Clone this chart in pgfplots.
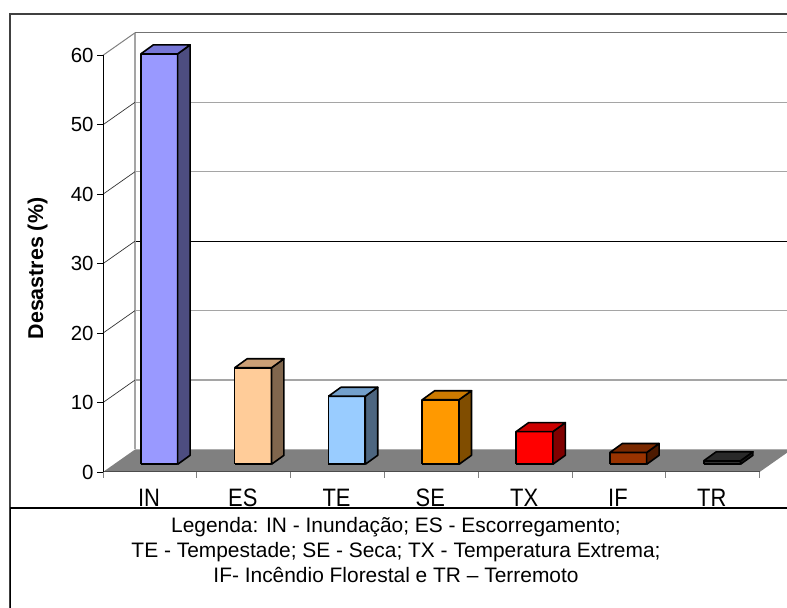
\documentclass[border=0pt]{standalone}
\usepackage{fontspec}
\setmainfont{Liberation Sans}
\usepackage{pgfplots}
\usepackage{pgfplotstable}
\pgfplotsset{compat=1.18}

\pgfplotstableread{
idx cat val
0 IN 59.1
1 ES 13.9
2 TE 9.8
3 SE 9.3
4 TX 4.7
5 IF 1.7
6 TR 0.5
}\datatab

% face templates: x = i + a ; y = value*b + c
\pgfplotstableread{
a b c
-0.196 0 0
0.196 0 0
0.196 1 0
-0.196 1 0
-0.196 0 0
}\frontface
\pgfplotstableread{
a b c
0.196 0 0
0.329 0 1.296
0.329 1 1.296
0.196 1 0
0.196 0 0
}\sideface
\pgfplotstableread{
a b c
-0.196 1 0
0.196 1 0
0.329 1 1.296
-0.063 1 1.296
-0.196 1 0
}\topface

\definecolor{bar0f}{RGB}{153,153,255}\definecolor{bar0t}{RGB}{118,118,214}\definecolor{bar0s}{RGB}{77,77,128}
\definecolor{bar1f}{RGB}{255,204,153}\definecolor{bar1t}{RGB}{204,160,118}\definecolor{bar1s}{RGB}{128,102,77}
\definecolor{bar2f}{RGB}{153,204,255}\definecolor{bar2t}{RGB}{115,160,204}\definecolor{bar2s}{RGB}{77,102,128}
\definecolor{bar3f}{RGB}{255,153,0}\definecolor{bar3t}{RGB}{204,122,0}\definecolor{bar3s}{RGB}{128,77,0}
\definecolor{bar4f}{RGB}{255,0,0}\definecolor{bar4t}{RGB}{204,0,0}\definecolor{bar4s}{RGB}{128,0,0}
\definecolor{bar5f}{RGB}{153,51,0}\definecolor{bar5t}{RGB}{122,41,0}\definecolor{bar5s}{RGB}{77,26,0}
\definecolor{bar6f}{RGB}{51,51,51}\definecolor{bar6t}{RGB}{41,41,41}\definecolor{bar6s}{RGB}{26,26,26}
\definecolor{floorgray}{RGB}{128,128,128}
\definecolor{gridgray}{RGB}{165,165,165}

\begin{document}
\begin{tikzpicture}
\useasboundingbox (0,0) rectangle (787bp,608bp);
\clip (0,0) rectangle (787bp,608bp);
\begin{axis}[
  at={(103bp,136bp)}, anchor=south west,
  x=93.8bp, y=6.945bp,
  xmin=-0.6, xmax=6.4, ymin=-1.109, ymax=58.891,
  clip=false, axis on top,
  axis x line*=bottom, axis y line*=left,
  x axis line style={draw=black!70, line width=1bp},
  y axis line style={draw=black, line width=1bp},
  /pgf/number format/assume math mode=true,
  tick label style={font=\fontsize{20.5}{24}\selectfont},
  ytick={-1.109,8.891,18.891,28.891,38.891,48.891,58.891},
  yticklabels={0,10,20,30,40,50,60},
  tick align=outside,
  major tick length=6bp,
  ytick style={draw=black, line width=0.8bp},
  xtick={-0.6,0.4,1.4,2.4,3.4,4.4,5.4,6.4},
  xticklabels={,,,,,,,},
  xtick style={draw=gray, line width=0.8bp},
  extra x ticks={-0.11,0.89,1.89,2.89,3.89,4.89,5.89},
  extra x tick labels={IN,ES,TE,SE,TX,IF,TR},
  extra x tick style={major tick length=0pt, tick style={draw=none},
     tick label style={font=\fontsize{22}{26}\selectfont, yscale=1.15, yshift=-11.5bp}},
]
% back wall gridlines
\addplot[gridgray, line width=1.3bp] coordinates {(-0.2585,12.131) (6.8,12.131)};
\addplot[gridgray, line width=1.3bp] coordinates {(-0.2585,22.131) (6.8,22.131)};
\addplot[black, line width=1.1bp] coordinates {(-0.2585,32.131) (6.8,32.131)};
\addplot[gridgray, line width=1.3bp] coordinates {(-0.2585,42.131) (6.8,42.131)};
\addplot[gridgray, line width=1.3bp] coordinates {(-0.2585,52.131) (6.8,52.131)};
\addplot[black!55, line width=1.4bp] coordinates {(-0.2585,62.131) (6.8,62.131)};
\addplot[gridgray, line width=1.2bp] coordinates {(-0.2585,2.131) (-0.2585,62.131)};
% left wall diagonals
\addplot[black!80, line width=0.7bp] coordinates {(-0.6,8.891) (-0.2585,12.131)};
\addplot[black!80, line width=0.7bp] coordinates {(-0.6,18.891) (-0.2585,22.131)};
\addplot[black!80, line width=0.7bp] coordinates {(-0.6,28.891) (-0.2585,32.131)};
\addplot[black!80, line width=0.7bp] coordinates {(-0.6,38.891) (-0.2585,42.131)};
\addplot[black!80, line width=0.7bp] coordinates {(-0.6,48.891) (-0.2585,52.131)};
\addplot[black!50, line width=1bp] coordinates {(-0.6,58.891) (-0.2585,62.131)};
% floor
\addplot[fill=floorgray, draw=none] coordinates {(-0.6,-1.109) (-0.2585,2.131) (6.7415,2.131) (6.4,-1.109) (-0.6,-1.109)};
% bars
\pgfplotsinvokeforeach{0,...,6}{
  \pgfplotstablegetelem{#1}{val}\of\datatab
  \let\barval\pgfplotsretval
  \addplot[fill=bar#1f, draw=black, line width=1.6bp, line join=round]
    table[x expr=#1+\thisrow{a}, y expr=\barval*\thisrow{b}+\thisrow{c}] {\frontface};
  \addplot[fill=bar#1s, draw=black, line width=1.6bp, line join=round]
    table[x expr=#1+\thisrow{a}, y expr=\barval*\thisrow{b}+\thisrow{c}] {\sideface};
  \addplot[fill=bar#1t, draw=black, line width=1.6bp, line join=round]
    table[x expr=#1+\thisrow{a}, y expr=\barval*\thisrow{b}+\thisrow{c}] {\topface};
}
\end{axis}
\node[rotate=90, anchor=base, font=\bfseries\fontsize{21.5}{25}\selectfont] at (43bp,339.5bp) {Desastres (\%)};
% frames
\draw[black!75, line width=1.5bp] (10bp,0) -- (10bp,594bp) -- (790bp,594bp);
\fill[white] (11bp,0) rectangle (790bp,100bp);
\draw[black, line width=1.3bp] (10.5bp,0) -- (10.5bp,100bp) -- (790bp,100bp);
\node[anchor=base, font=\fontsize{21}{25}\selectfont] at (396bp,75bp) {Legenda: IN - Inundação; ES - Escorregamento;};
\node[anchor=base, font=\fontsize{21}{25}\selectfont] at (396bp,50bp) {TE - Tempestade; SE - Seca; TX - Temperatura Extrema;};
\node[anchor=base, font=\fontsize{21}{25}\selectfont] at (396bp,26bp) {IF- Incêndio Florestal e TR – Terremoto};
\end{tikzpicture}
\end{document}
